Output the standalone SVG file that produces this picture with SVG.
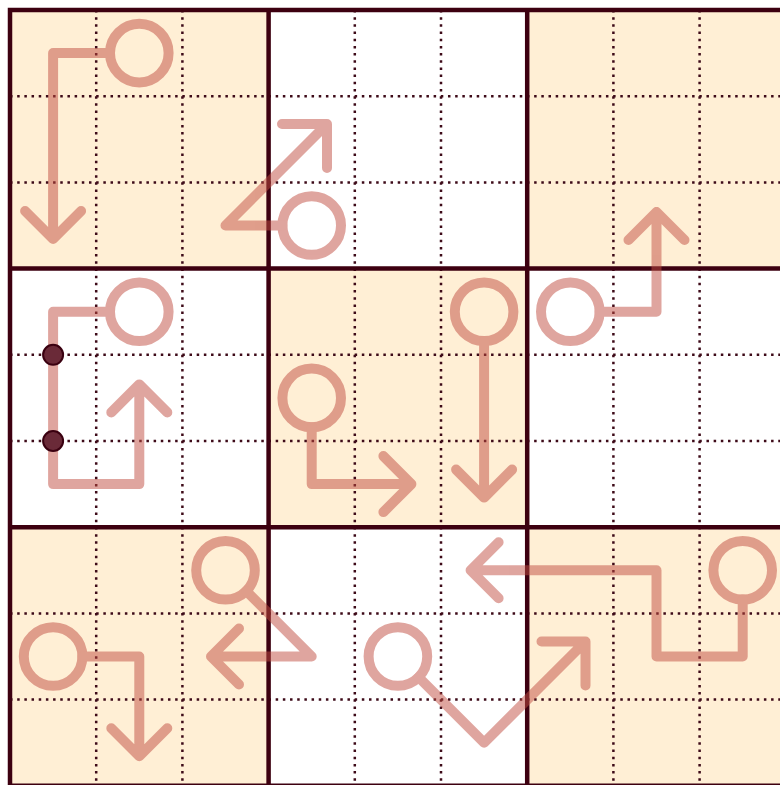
<svg xmlns="http://www.w3.org/2000/svg" width="780" height="785" viewBox="0 0 780 785">
<style>
.cream{fill:#FFEFD5}
.dot{stroke:#3D0A18;stroke-width:2.5;stroke-dasharray:2.5 4.68;fill:none}
.thick{stroke:#3D0010;stroke-width:4.5;fill:none;stroke-linecap:square}
.arrow{fill:none;stroke:#C14D41;stroke-width:10;stroke-linecap:round;stroke-linejoin:round;opacity:0.5}
.pin{fill:#6A2A38;stroke:#3A0010;stroke-width:2}
</style>
<rect x="0" y="0" width="780" height="785" fill="#FFFFFF"/>
<g id="boxes">
<rect class="cream" x="10" y="10" width="258.6" height="258.6"/>
<rect class="cream" x="527.2" y="10" width="258.6" height="258.6"/>
<rect class="cream" x="268.6" y="268.6" width="258.6" height="258.6"/>
<rect class="cream" x="10" y="527.2" width="258.6" height="258.6"/>
<rect class="cream" x="527.2" y="527.2" width="258.6" height="258.6"/>
</g>
<g id="dotted">
<path class="dot" d="M96.2,10V786M182.4,10V786M354.8,10V786M441,10V786M613.4,10V786M699.6,10V786"/>
<path class="dot" d="M10,96.2H786M10,182.4H786M10,354.8H786M10,441H786M10,613.4H786M10,699.6H786"/>
</g>
<g id="thick">
<path class="thick" d="M10,10V786M268.6,10V786M527.2,10V786M785.8,10V786M10,10H786M10,268.6H786M10,527.2H786M10,785.8H786"/>
</g>
<g id="arrows">
<g id="arrow1" class="arrow">
<circle cx="139.3" cy="53.1" r="29.3"/>
<path d="M110,53.1H53.1V239M25.1,211L53.1,239L81.1,211"/>
</g>
<g id="arrow2" class="arrow">
<circle cx="311.7" cy="225.5" r="29.3"/>
<path d="M282.4,225.5H225.5L327,124M282,124H327V168"/>
</g>
<g id="arrow3" class="arrow">
<circle cx="570.3" cy="311.7" r="29.3"/>
<path d="M599.6,311.7H656.5V212M628.5,240L656.5,212L684.5,240"/>
</g>
<g id="arrow4" class="arrow">
<circle cx="139.3" cy="311.7" r="29.3"/>
<path d="M110,311.7H53.1V484.1H139.3V384.4M111.3,412.4L139.3,384.4L167.3,412.4"/>
</g>
<g id="arrow5" class="arrow">
<circle cx="311.7" cy="397.9" r="29.3"/>
<path d="M311.7,427.2V484.1H411.4M383.4,456.1L411.4,484.1L383.4,512.1"/>
</g>
<g id="arrow6" class="arrow">
<circle cx="484.1" cy="311.7" r="29.3"/>
<path d="M484.1,341V497.6M456.1,469.6L484.1,497.6L512.1,469.6"/>
</g>
<g id="arrow7" class="arrow">
<circle cx="742.7" cy="570.3" r="29.3"/>
<path d="M742.7,599.6V656.5H656.5V570.3H470.6M498.6,542.3L470.6,570.3L498.6,598.3"/>
</g>
<g id="arrow8" class="arrow">
<circle cx="225.5" cy="570.3" r="29.3"/>
<path d="M246.2,591L311.7,656.5H211M239,628.5L211,656.5L239,684.5"/>
</g>
<g id="arrow9" class="arrow">
<circle cx="53.1" cy="656.5" r="29.3"/>
<path d="M82.4,656.5H139.3V756.2M111.3,728.2L139.3,756.2L167.3,728.2"/>
</g>
<g id="arrow10" class="arrow">
<circle cx="397.9" cy="656.5" r="29.3"/>
<path d="M418.6,677.2L484.1,742.7L585.5,641.5M541.5,641.5H585.5V685.5"/>
</g>
</g>
<g id="pins">
<circle id="pin1" class="pin" cx="53.1" cy="354.8" r="10"/>
<circle id="pin2" class="pin" cx="53.1" cy="441" r="10"/>
</g>
</svg>
